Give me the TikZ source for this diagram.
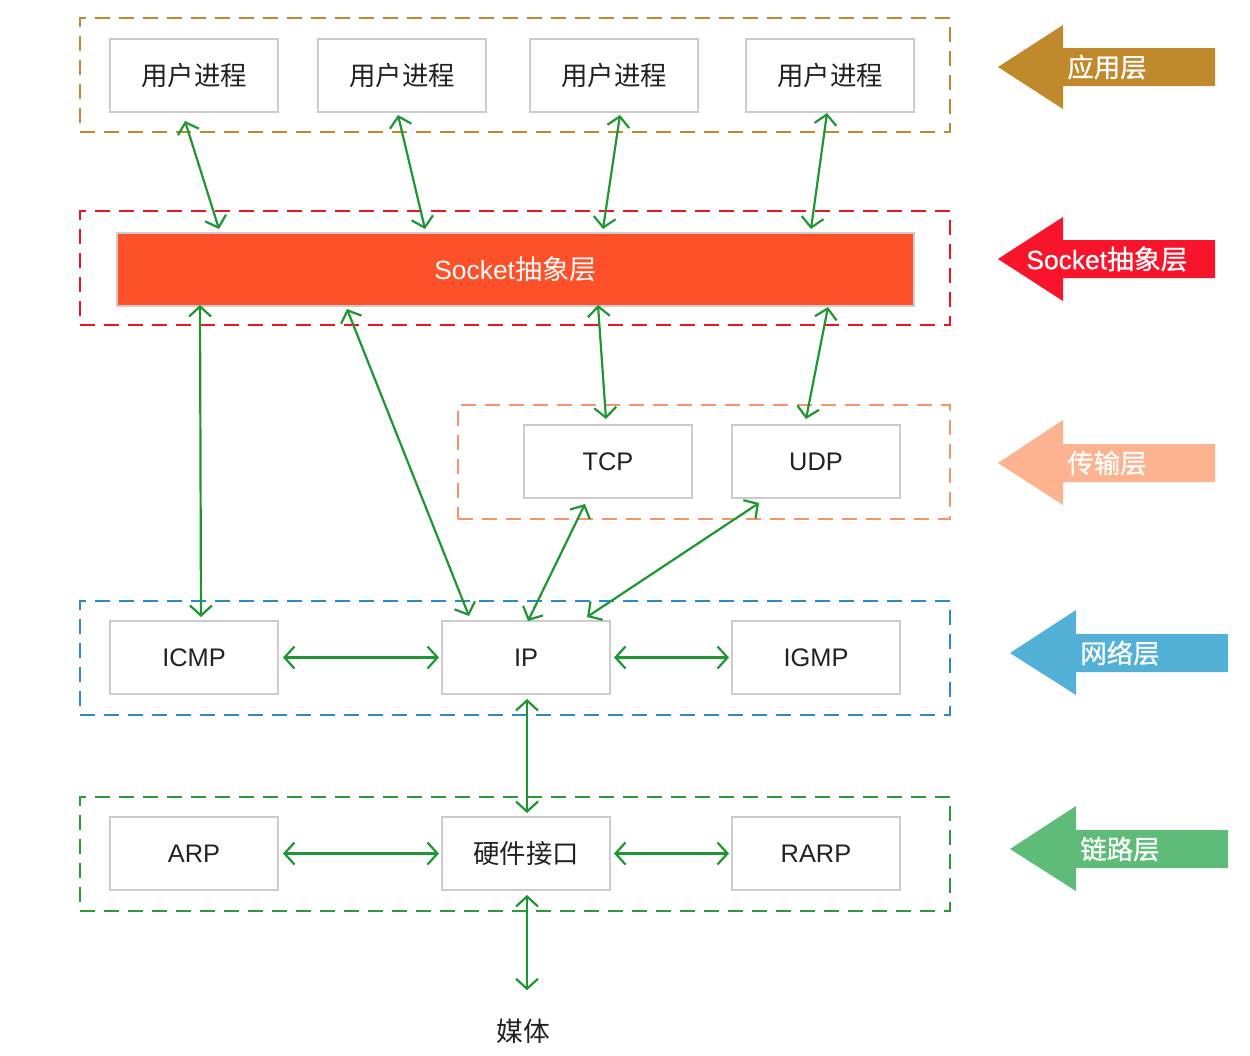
\documentclass[tikz,border=0pt]{standalone}
\usepackage{fontspec}
\setmainfont{Liberation Sans}
\newfontfamily\cjk{Noto Sans CJK SC}
\newfontfamily\cjkb[FakeBold=0.8]{Noto Sans CJK SC}
\newfontfamily\latb[FakeBold=0.6]{Liberation Sans}
\usetikzlibrary{arrows.meta,calc}
\definecolor{appc}{HTML}{BF8A2D}
\definecolor{appa}{HTML}{C0892C}
\definecolor{sockc}{HTML}{EC1620}
\definecolor{socka}{HTML}{F8142A}
\definecolor{sockfill}{HTML}{FF5129}
\definecolor{transc}{HTML}{F4956A}
\definecolor{transa}{HTML}{FDB38F}
\definecolor{netc}{HTML}{2C8BC7}
\definecolor{neta}{HTML}{53B1D8}
\definecolor{linkc}{HTML}{2A9A3A}
\definecolor{linka}{HTML}{5FBC78}
\definecolor{conn}{HTML}{1E9632}
\definecolor{boxgray}{HTML}{CCCCCC}
\definecolor{txt}{HTML}{222222}
\begin{document}
\begin{tikzpicture}[x=0.5pt,y=-0.5pt,
  layer/.style={dashed,dash pattern=on 7.5pt off 4.5pt,line width=1pt,minimum width=435pt,minimum height=57pt,inner sep=0pt},
  pbox/.style={draw=boxgray,line width=1pt,minimum width=84pt,minimum height=36.5pt,inner sep=0pt,text=txt,font=\fontsize{12.7}{14}\selectfont},
  cbox/.style={pbox,font=\cjk\fontsize{13.2}{15}\selectfont},
  conarrow/.style={draw=conn,line width=1.1pt,{Straight Barb[length=5pt,width=11pt]}-{Straight Barb[length=5pt,width=11pt]}},
  sidelabel/.style={text=white,anchor=west,inner sep=0pt,font=\cjkb\fontsize{13.2}{15}\selectfont}
]
\useasboundingbox (0,0) rectangle (1250,1056);

% layer frames
\node[layer,draw=appc] (Lapp) at (515,75) {};
\node[layer,draw=sockc] (Lsock) at (515,267.5) {};
\node[layer,draw=transc,minimum width=246pt] (Ltrans) at (704,461.5) {};
\node[layer,draw=netc] (Lnet) at (515,657.5) {};
\node[layer,draw=linkc] (Llink) at (515,853.5) {};

% application processes
\node[cbox] (u1) at (194,75.5) {用户进程};
\node[cbox] (u2) at (402,75.5) {用户进程};
\node[cbox] (u3) at (614,75.5) {用户进程};
\node[cbox] (u4) at (830,75.5) {用户进程};

% socket bar
\node[draw=boxgray,line width=1pt,fill=sockfill,minimum width=398.5pt,minimum height=36.5pt,inner sep=0pt,text=white,font=\fontsize{13.2}{15}\selectfont] (sock) at (515.5,269.5) {Socket{\cjk\fontsize{13.6}{15}\selectfont 抽象层}};

% transport
\node[pbox] (tcp) at (608,461.5) {TCP};
\node[pbox] (udp) at (816,461.5) {UDP};

% network
\node[pbox] (icmp) at (194,657.5) {ICMP};
\node[pbox] (ip) at (526,657.5) {IP};
\node[pbox] (igmp) at (816,657.5) {IGMP};

% link
\node[pbox] (arp) at (194,853.5) {ARP};
\node[cbox] (hw) at (526,853.5) {硬件接口};
\node[pbox] (rarp) at (816,853.5) {RARP};

% media
\node[inner sep=0pt,text=txt,font=\cjk\fontsize{13.4}{15}\selectfont] (media) at (523,1031) {媒体};

% connectors
\draw[conarrow] ($(u1.south)+(-9,8)$) -- ($(sock.north west)+(103,-3)$);
\draw[conarrow] ($(u2.south)+(-4,2)$) -- ($(sock.north west)+(309,-3)$);
\draw[conarrow] ($(u3.south)+(6,2)$) -- ($(sock.north west)+(487,-3)$);
\draw[conarrow] ($(u4.south)+(-3,0)$) -- ($(sock.north west)+(695,-3)$);
\draw[conarrow] ($(sock.south west)+(84,-2)$) -- ($(icmp.north)+(7,-3)$);
\draw[conarrow] ($(sock.south west)+(231,2)$) -- ($(ip.north west)+(28,-4)$);
\draw[conarrow] ($(sock.south west)+(482,-2)$) -- ($(tcp.north)+(-2,-5)$);
\draw[conarrow] ($(sock.south west)+(712,0)$) -- ($(udp.north)+(-10,-5)$);
\draw[conarrow] ($(tcp.south)+(-23,5)$) -- ($(ip.north)+(2,1)$);
\draw[conarrow] ($(udp.south west)+(28,4)$) -- ($(ip.north east)+(-24,-3)$);
\draw[conarrow] ($(icmp.east)+(4,0)$) -- ($(ip.west)+(-2,0)$);
\draw[conarrow] ($(ip.east)+(3,0)$) -- ($(igmp.west)+(-2,0)$);
\draw[conarrow] ($(ip.south)+(1,4)$) -- ($(hw.north)+(1,-3)$);
\draw[conarrow] ($(arp.east)+(4,0)$) -- ($(hw.west)+(-2,0)$);
\draw[conarrow] ($(hw.east)+(3,0)$) -- ($(rarp.west)+(-2,0)$);
\draw[conarrow] ($(hw.south)+(1,4)$) -- ($(media.north)+(4,-28)$);

% side arrows
\fill[appa] (998,67) -- (1063,25) -- (1063,48) -- (1215,48) -- (1215,86) -- (1063,86) -- (1063,109) -- cycle;
\node[sidelabel] (tapp) at (1067,67) {应用层};
\fill[socka] (998,259) -- (1063,217) -- (1063,240) -- (1215,240) -- (1215,278) -- (1063,278) -- (1063,301) -- cycle;
\node[sidelabel,font=\latb\fontsize{13.2}{15}\selectfont] (tsock) at (1026,259) {Socket{\cjkb\fontsize{13.4}{15}\selectfont 抽象层}};
\fill[transa] (998,463) -- (1063,420) -- (1063,444) -- (1215,444) -- (1215,482) -- (1063,482) -- (1063,505) -- cycle;
\node[sidelabel] (ttrans) at (1067,463) {传输层};
\fill[neta] (1010,653) -- (1076,610) -- (1076,634) -- (1228,634) -- (1228,672) -- (1076,672) -- (1076,695) -- cycle;
\node[sidelabel] (tnet) at (1080,653) {网络层};
\fill[linka] (1010,849) -- (1076,806) -- (1076,830) -- (1228,830) -- (1228,868) -- (1076,868) -- (1076,891) -- cycle;
\node[sidelabel] (tlink) at (1080,849) {链路层};
\end{tikzpicture}
\end{document}
